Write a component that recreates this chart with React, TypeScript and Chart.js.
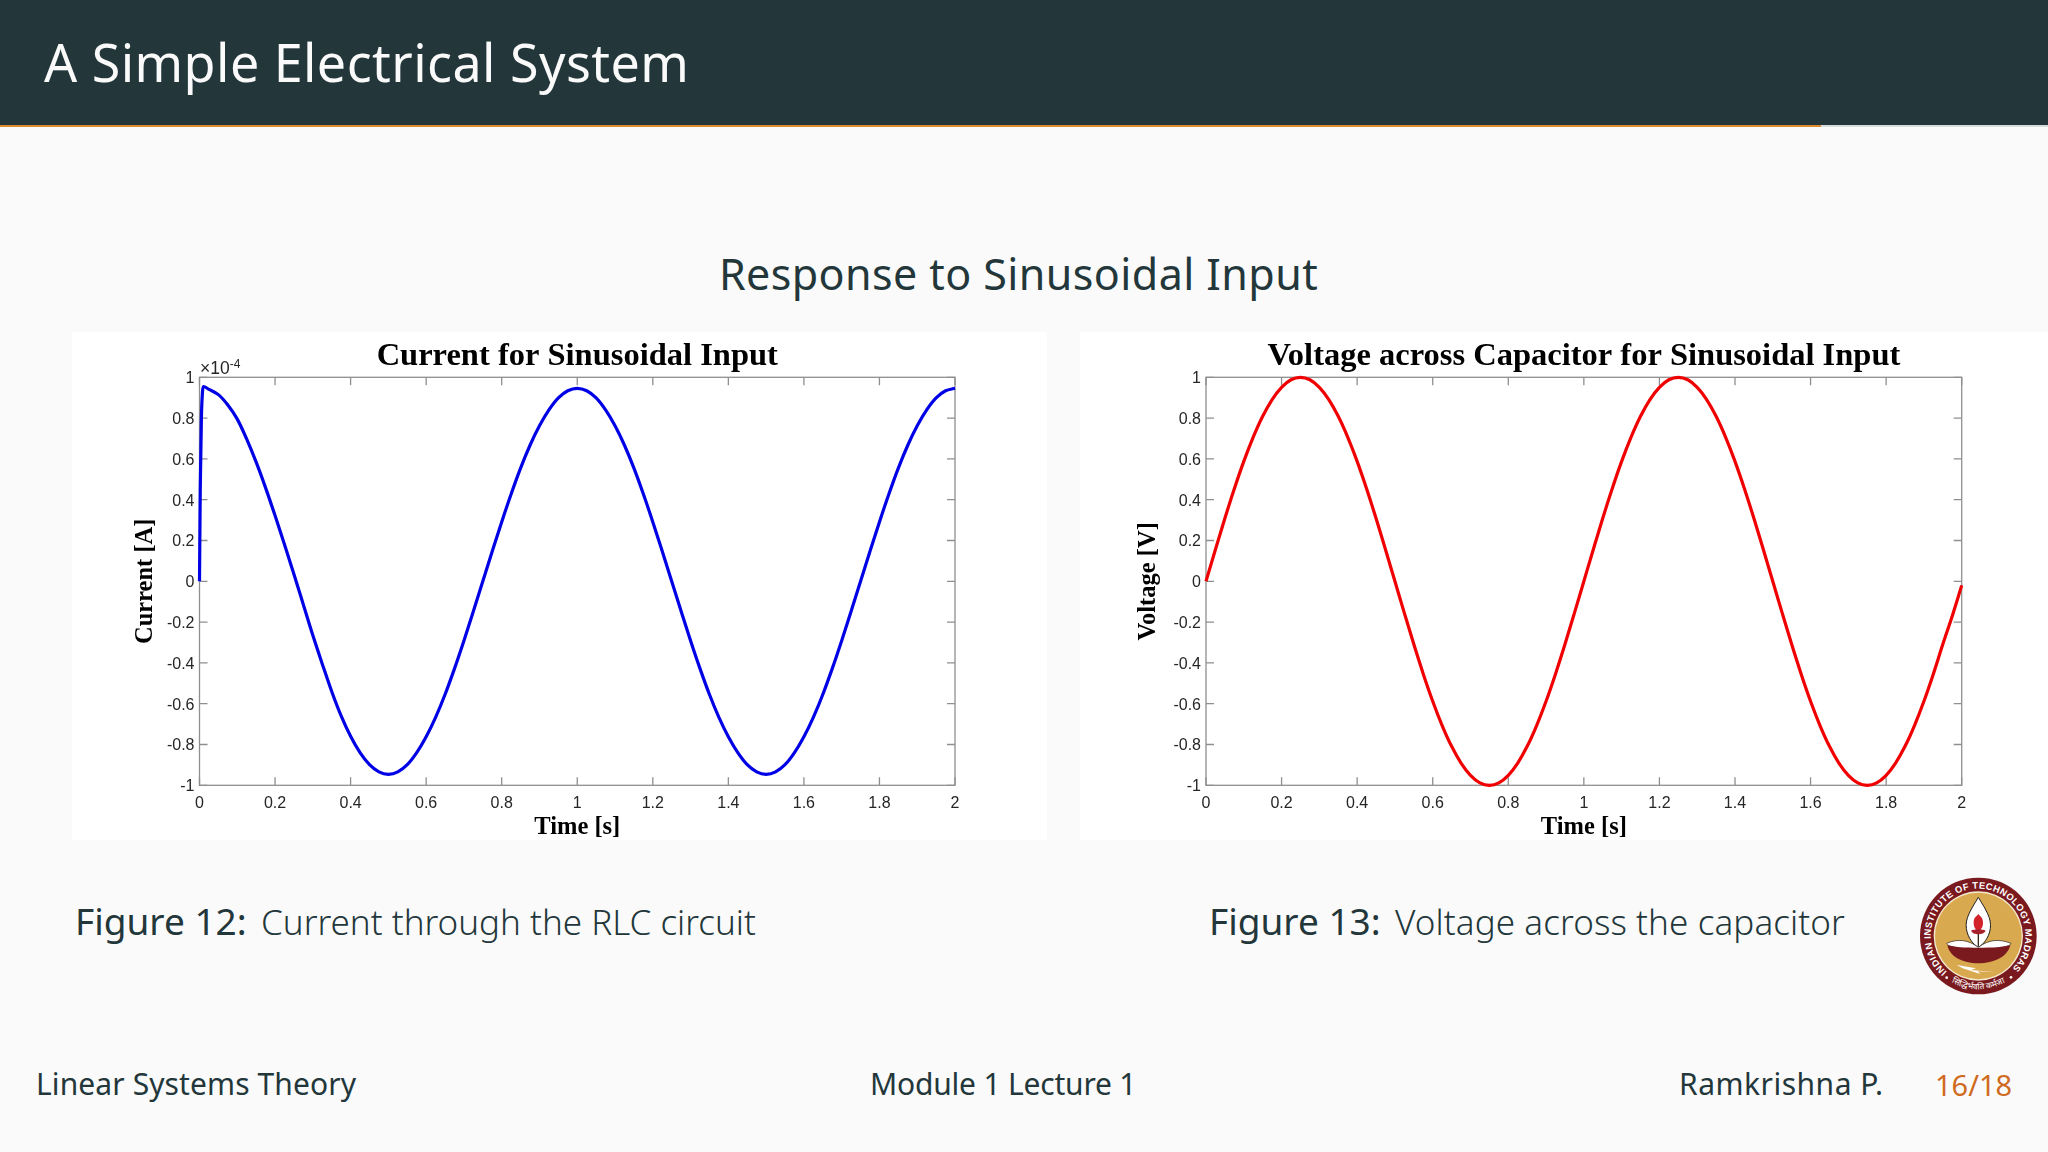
import React, { useEffect, useRef } from "react";
import { Chart, registerables } from "chart.js";

Chart.register(...registerables);

const xTickLabels = ["0", "0.2", "0.4", "0.6", "0.8", "1", "1.2", "1.4", "1.6", "1.8", "2"];
const yTickLabels = ["-1", "-0.8", "-0.6", "-0.4", "-0.2", "0", "0.2", "0.4", "0.6", "0.8", "1"];

const currentTime = [
  0, 0.002, 0.005, 0.008, 0.01, 0.025, 0.05, 0.075, 0.1, 0.125, 0.15, 0.175, 0.2, 0.225, 0.25, 0.275, 0.3, 0.325, 0.35, 0.375, 0.4, 0.425, 0.45, 0.475, 0.5,
  0.525, 0.55, 0.575, 0.6, 0.625, 0.65, 0.675, 0.7, 0.725, 0.75, 0.775, 0.8, 0.825, 0.85, 0.875, 0.9, 0.925, 0.95, 0.975, 1,
  1.025, 1.05, 1.075, 1.1, 1.125, 1.15, 1.175, 1.2, 1.225, 1.25, 1.275, 1.3, 1.325, 1.35, 1.375, 1.4, 1.425, 1.45, 1.475, 1.5,
  1.525, 1.55, 1.575, 1.6, 1.625, 1.65, 1.675, 1.7, 1.725, 1.75, 1.775, 1.8, 1.825, 1.85, 1.875, 1.9, 1.925, 1.95, 1.975, 2,
];
const currentValues = [
  0, 0.45, 0.8, 0.93, 0.955, 0.941, 0.915, 0.864, 0.795, 0.697, 0.584, 0.458, 0.322, 0.18, 0.035, -0.115, -0.265, -0.405, -0.54, -0.66, -0.76, -0.84, -0.899, -0.934, -0.946,
  -0.934, -0.899, -0.84, -0.762, -0.667, -0.555, -0.428, -0.291, -0.147, 0, 0.147, 0.291, 0.428, 0.555, 0.667, 0.762, 0.84, 0.899, 0.934, 0.946,
  0.934, 0.899, 0.84, 0.762, 0.667, 0.555, 0.428, 0.291, 0.147, 0, -0.147, -0.291, -0.428, -0.555, -0.667, -0.762, -0.84, -0.899, -0.934, -0.946,
  -0.934, -0.899, -0.84, -0.762, -0.667, -0.555, -0.428, -0.291, -0.147, 0, 0.147, 0.291, 0.428, 0.555, 0.667, 0.762, 0.84, 0.899, 0.934, 0.946,
];

const voltageTime = [
  0, 0.025, 0.05, 0.075, 0.1, 0.125, 0.15, 0.175, 0.2, 0.225, 0.25, 0.275, 0.3, 0.325, 0.35, 0.375, 0.4, 0.425, 0.45, 0.475, 0.5,
  0.525, 0.55, 0.575, 0.6, 0.625, 0.65, 0.675, 0.7, 0.725, 0.75, 0.775, 0.8, 0.825, 0.85, 0.875, 0.9, 0.925, 0.95, 0.975, 1,
  1.025, 1.05, 1.075, 1.1, 1.125, 1.15, 1.175, 1.2, 1.225, 1.25, 1.275, 1.3, 1.325, 1.35, 1.375, 1.4, 1.425, 1.45, 1.475, 1.5,
  1.525, 1.55, 1.575, 1.6, 1.625, 1.65, 1.675, 1.7, 1.725, 1.75, 1.775, 1.8, 1.825, 1.85, 1.875, 1.9, 1.925, 1.95, 1.975, 2,
];
const voltageValues = [
  0, 0.156, 0.309, 0.454, 0.588, 0.707, 0.809, 0.891, 0.951, 0.988, 1, 0.988, 0.951, 0.891, 0.809, 0.707, 0.588, 0.454, 0.309, 0.156, 0,
  -0.156, -0.309, -0.454, -0.588, -0.707, -0.809, -0.891, -0.951, -0.988, -1, -0.988, -0.951, -0.891, -0.809, -0.707, -0.588, -0.454, -0.309, -0.156, 0,
  0.156, 0.309, 0.454, 0.588, 0.707, 0.809, 0.891, 0.951, 0.988, 1, 0.988, 0.951, 0.891, 0.809, 0.707, 0.588, 0.454, 0.309, 0.156, 0,
  -0.156, -0.309, -0.454, -0.588, -0.707, -0.809, -0.891, -0.951, -0.988, -1, -0.988, -0.951, -0.891, -0.809, -0.707, -0.588, -0.454, -0.309, -0.17, -0.02,
];

const AXIS = "#8f8f8f";
const TICK_TEXT = "#262626";
const INK = "#23373b";
const SANS = '"Noto Sans", "Open Sans", sans-serif';

const matlabBox = {
  id: "matlabBox",
  beforeDatasetsDraw(chart: any) {
    const { ctx, chartArea: a, scales } = chart;
    ctx.save();
    ctx.strokeStyle = AXIS;
    ctx.lineWidth = 1.3;
    ctx.strokeRect(a.left, a.top, a.right - a.left, a.bottom - a.top);
    ctx.beginPath();
    scales.x.ticks.forEach((_: any, i: number) => {
      const p = scales.x.getPixelForTick(i);
      ctx.moveTo(p, a.bottom); ctx.lineTo(p, a.bottom - 8);
      ctx.moveTo(p, a.top); ctx.lineTo(p, a.top + 8);
    });
    scales.y.ticks.forEach((_: any, i: number) => {
      const p = scales.y.getPixelForTick(i);
      ctx.moveTo(a.left, p); ctx.lineTo(a.left + 8, p);
      ctx.moveTo(a.right, p); ctx.lineTo(a.right - 8, p);
    });
    ctx.stroke();
    ctx.restore();
  },
};

type PlotProps = {
  left: number; width: number; rightPad: number; yWidth: number; yTitlePad: number;
  title: string; yTitle: string; color: string; times: number[]; values: number[]; seriesName: string;
};

function Plot(p: PlotProps) {
  const ref = useRef<HTMLCanvasElement | null>(null);
  useEffect(() => {
    const chart = new Chart(ref.current as HTMLCanvasElement, {
      type: "line",
      data: {
        datasets: [{
          label: p.seriesName,
          data: p.times.map((t, i) => ({ x: t, y: p.values[i] })),
          borderColor: p.color,
          borderWidth: 3.2,
          pointRadius: 0,
          cubicInterpolationMode: "monotone",
          clip: false,
        }],
      },
      options: {
        animation: false,
        responsive: false,
        devicePixelRatio: 1,
        layout: { padding: { left: 0, right: p.rightPad, top: 0, bottom: 0 } },
        plugins: {
          legend: { display: false },
          tooltip: { enabled: false },
          title: {
            display: true,
            text: p.title,
            fullSize: false,
            color: "#000",
            font: { family: '"Liberation Serif", serif', weight: "bold", size: 32.5, lineHeight: 1.2 },
            padding: { top: 5, bottom: 1.3 },
          },
        },
        scales: {
          x: {
            type: "linear", min: 0, max: 2,
            grid: { display: false, drawTicks: false },
            border: { display: false },
            afterFit: (s: any) => { s.height = 54.7; },
            ticks: {
              stepSize: 0.2, autoSkip: false, maxRotation: 0, padding: 9, color: TICK_TEXT,
              font: { family: '"Liberation Sans", sans-serif', size: 16 },
              callback: (_: any, i: number) => xTickLabels[i],
            },
            title: {
              display: true, text: "Time [s]", color: "#000",
              font: { family: '"Liberation Serif", serif', weight: "bold", size: 24.5, lineHeight: 1.2 },
              padding: { top: 0, bottom: -2.6 },
            },
          },
          y: {
            type: "linear", min: -1, max: 1,
            grid: { display: false, drawTicks: false },
            border: { display: false },
            afterFit: (s: any) => { s.width = p.yWidth; },
            ticks: {
              stepSize: 0.2, autoSkip: false, padding: 5, color: TICK_TEXT, labelOffset: 1.5,
              font: { family: '"Liberation Sans", sans-serif', size: 16 },
              callback: (_: any, i: number) => yTickLabels[i],
            },
            title: {
              display: true, text: p.yTitle, color: "#000",
              font: { family: '"Liberation Serif", serif', weight: "bold", size: 24.5, lineHeight: 1.2 },
              padding: { top: p.yTitlePad, bottom: 0 },
            },
          },
        },
      } as any,
      plugins: [matlabBox],
    } as any);
    return () => chart.destroy();
  }, []);
  return (
    <canvas
      ref={ref}
      width={p.width}
      height={508}
      style={{ position: "absolute", left: p.left, top: 332, width: p.width, height: 508, background: "#fff", display: "block" }}
    />
  );
}

function T(props: { x: number; y: number; size: number; weight?: number; color?: string; spacing?: number; children: React.ReactNode; center?: boolean; family?: string }) {
  return (
    <div
      style={{
        position: "absolute",
        left: props.x,
        top: props.y,
        transform: props.center ? "translate(-50%,-50%)" : "translateY(-50%)",
        fontFamily: props.family || SANS,
        fontSize: props.size,
        fontWeight: props.weight ?? 400,
        color: props.color ?? INK,
        letterSpacing: props.spacing ?? 0,
        whiteSpace: "nowrap",
        lineHeight: 1,
      }}
    >
      {props.children}
    </div>
  );
}

function Logo() {
  return (
    <svg viewBox="0 0 804 876" style={{ position: "absolute", left: 1781, top: 860, width: 268, height: 292 }}>
      <circle cx="592" cy="228" r="175" fill="#7a1a1f" />
      <circle cx="592" cy="228" r="134" fill="#f5e9cf" />
      <circle cx="592" cy="228" r="130" fill="#d9a950" />
      <defs>
        <path id="ringTop" d="M 498 335 A 142 142 0 1 1 692 328" />
        <path id="ringBottom" d="M 500 359 A 160 160 0 0 0 684 359" />
      </defs>
      <text fill="#fff" fontFamily='"Liberation Sans", sans-serif' fontWeight="bold" fontSize="28">
        <textPath href="#ringTop" textLength="675" lengthAdjust="spacing">INDIAN INSTITUTE OF TECHNOLOGY MADRAS</textPath>
      </text>
      <text fill="#fff" fontSize="25" textAnchor="middle" fontFamily='"Noto Sans", sans-serif'>
        <textPath href="#ringBottom" startOffset="50%">सिद्धिर्भवति कर्मजा</textPath>
      </text>
      <circle cx="497" cy="353" r="4" fill="#fff" />
      <circle cx="690" cy="352" r="4" fill="#fff" />
      <path d="M592 112 C615 150 632 175 628 205 C624 235 605 255 592 262 C579 255 560 235 556 205 C552 175 569 150 592 112 Z" fill="#fff" stroke="#222" strokeWidth="3" />
      <path d="M578 188 C578 172 588 168 592 162 C596 168 606 172 606 188 C606 204 598 210 592 212 C586 210 578 204 578 188 Z" fill="#d2232a" />
      <path d="M570 212 C580 206 604 206 614 212 C608 226 576 226 570 212 Z" fill="#a8202a" />
      <rect x="590" y="222" width="4" height="38" fill="#3a2a1a" />
      <path d="M497 250 C530 236 560 238 592 262 C624 238 654 236 690 250 C690 262 620 270 592 268 C564 270 497 262 497 250 Z" fill="#fff" stroke="#222" strokeWidth="2" />
      <path d="M499 256 C530 266 654 266 688 256 C680 290 640 310 592 310 C544 310 506 290 499 256 Z" fill="#7a1a1f" />
      <path d="M527 315 L585 325 L570 330 L645 337 L590 334 L598 342 L545 325 Z" fill="#fff" />
    </svg>
  );
}

export default function App() {
  return (
    <div style={{ position: "fixed", left: 0, top: 0, width: 2048, height: 1152, overflow: "hidden", background: "#fafafa" }}>
      <div style={{ position: "absolute", left: 0, top: 0, width: 2048, height: 125, background: INK }} />
      <div style={{ position: "absolute", left: 0, top: 125, width: 2048, height: 2, background: "#d6dcdb" }} />
      <div style={{ position: "absolute", left: 0, top: 125, width: 1821, height: 2, background: "#dc8a2e" }} />
      <T x={44} y={62} size={52} color="#fafafa" spacing={0.45}>A Simple Electrical System</T>
      <T x={1018.5} y={273} size={43} center spacing={0.42}>Response to Sinusoidal Input</T>

      <Plot left={72} width={975} rightPad={92} yWidth={127.5} yTitlePad={59} title="Current for Sinusoidal Input" yTitle="Current [A]" color="#0000e6" times={currentTime} values={currentValues} seriesName="Current" />
      <Plot left={1080} width={968} rightPad={86.3} yWidth={126} yTitlePad={54} title="Voltage across Capacitor for Sinusoidal Input" yTitle="Voltage [V]" color="#f00000" times={voltageTime} values={voltageValues} seriesName="Voltage" />

      <div style={{ position: "absolute", left: 200, top: 358, fontFamily: '"Liberation Sans", sans-serif', fontSize: 17.5, color: TICK_TEXT, lineHeight: "20px", whiteSpace: "nowrap" }}>
        ×10<span style={{ fontSize: 12, position: "relative", top: -6 }}>-4</span>
      </div>

      <T x={75} y={920} size={37}>Figure 12:</T>
      <T x={261} y={921} size={35} weight={300}>Current through the RLC circuit</T>
      <T x={1209} y={920} size={37}>Figure 13:</T>
      <T x={1395} y={921} size={35} weight={300} spacing={0.1}>Voltage across the capacitor</T>

      <T x={36} y={1084} size={30} spacing={0.1}>Linear Systems Theory</T>
      <T x={870} y={1084} size={30} spacing={-0.2}>Module 1 Lecture 1</T>
      <T x={1679} y={1084} size={30} spacing={0.5}>Ramkrishna P.</T>
      <T x={1935} y={1084} size={29} color="#cf6a1f">16/18</T>
      <Logo />
    </div>
  );
}
